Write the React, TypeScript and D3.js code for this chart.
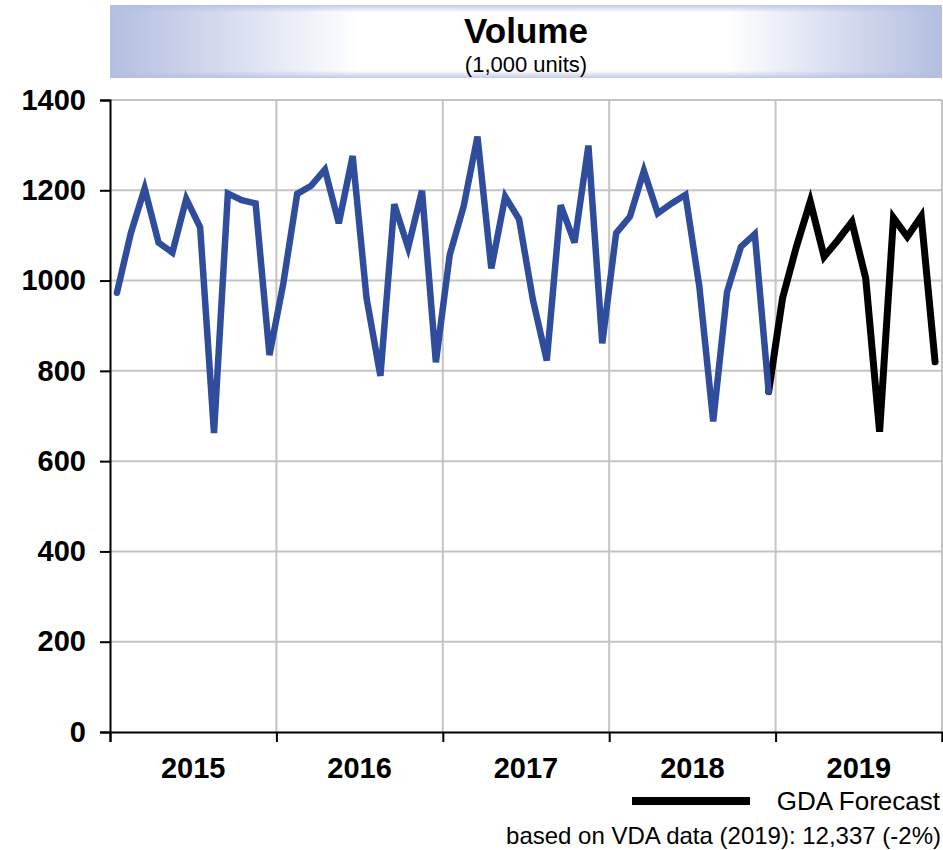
import React, { useEffect, useRef } from 'react';
import * as d3 from 'd3';

// monthly volumes, 1,000 units
const years = ['2015', '2016', '2017', '2018', '2019'];
const actual2015 = [973, 1105, 1204, 1084, 1062, 1181, 1118, 662, 1193, 1178, 1171, 835];
const actual2016 = [994, 1192, 1210, 1246, 1127, 1276, 961, 789, 1169, 1073, 1199, 819];
const actual2017 = [1057, 1164, 1319, 1027, 1186, 1136, 957, 823, 1167, 1084, 1299, 861];
const actual2018 = [1105, 1142, 1243, 1149, 1171, 1190, 987, 688, 975, 1075, 1103, 754];
const forecast2019 = [961, 1075, 1175, 1053, 1090, 1130, 1005, 665, 1139, 1097, 1142, 820];
const yTicks = [0, 200, 400, 600, 800, 1000, 1200, 1400];

const App = () => {
  const svgRef = useRef(null);

  useEffect(() => {
    const width = 943;
    const height = 850;
    const margin = { top: 100, right: 1, bottom: 118, left: 110 };

    const svg = d3.select(svgRef.current);
    svg.selectAll('*').remove();
    svg.attr('width', width).attr('height', height);

    const actual = [...actual2015, ...actual2016, ...actual2017, ...actual2018];

    const x = d3.scaleLinear()
      .domain([0, years.length * 12])
      .range([margin.left, width - margin.right]);
    const y = d3.scaleLinear()
      .domain([0, 1400])
      .range([height - margin.bottom, margin.top]);

    // title box with soft blue edges
    const defs = svg.append('defs');
    const gh = defs.append('linearGradient').attr('id', 'titleH')
      .attr('x1', '0%').attr('x2', '100%').attr('y1', '0%').attr('y2', '0%');
    gh.append('stop').attr('offset', '0%').attr('stop-color', '#b3bee0');
    gh.append('stop').attr('offset', '30%').attr('stop-color', '#ffffff');
    gh.append('stop').attr('offset', '74%').attr('stop-color', '#ffffff');
    gh.append('stop').attr('offset', '100%').attr('stop-color', '#b3bee0');
    const gv = defs.append('linearGradient').attr('id', 'titleV')
      .attr('x1', '0%').attr('x2', '0%').attr('y1', '0%').attr('y2', '100%');
    gv.append('stop').attr('offset', '0%').attr('stop-color', '#b3bee0').attr('stop-opacity', 0.8);
    gv.append('stop').attr('offset', '10%').attr('stop-color', '#b3bee0').attr('stop-opacity', 0);
    gv.append('stop').attr('offset', '90%').attr('stop-color', '#b3bee0').attr('stop-opacity', 0);
    gv.append('stop').attr('offset', '100%').attr('stop-color', '#b3bee0').attr('stop-opacity', 0.8);

    svg.append('rect')
      .attr('x', margin.left).attr('y', 5)
      .attr('width', width - margin.right - margin.left).attr('height', 73)
      .attr('fill', 'url(#titleH)');
    svg.append('rect')
      .attr('x', margin.left).attr('y', 5)
      .attr('width', width - margin.right - margin.left).attr('height', 73)
      .attr('fill', 'url(#titleV)');

    const cx = (margin.left + width - margin.right) / 2;
    svg.append('text')
      .attr('x', cx).attr('y', 43)
      .attr('text-anchor', 'middle')
      .style('font', 'bold 35px "Liberation Sans", Arial, sans-serif')
      .text('Volume');
    svg.append('text')
      .attr('x', cx).attr('y', 72)
      .attr('text-anchor', 'middle')
      .style('font', '22px "Liberation Sans", Arial, sans-serif')
      .text('(1,000 units)');

    // horizontal gridlines
    svg.append('g')
      .selectAll('line')
      .data(yTicks.filter((d) => d > 0))
      .join('line')
      .attr('x1', margin.left).attr('x2', width - margin.right)
      .attr('y1', (d) => y(d)).attr('y2', (d) => y(d))
      .attr('stroke', '#c4c4c4').attr('stroke-width', 2);

    // vertical gridlines at year boundaries
    svg.append('g')
      .selectAll('line')
      .data(d3.range(1, years.length + 1))
      .join('line')
      .attr('x1', (d) => x(d * 12)).attr('x2', (d) => x(d * 12))
      .attr('y1', y(1400)).attr('y2', y(0))
      .attr('stroke', '#c4c4c4').attr('stroke-width', 2);

    // y axis
    const yAxis = svg.append('g')
      .attr('transform', `translate(${margin.left},0)`)
      .call(d3.axisLeft(y).tickValues(yTicks).tickSize(10).tickPadding(14)
        .tickFormat((d) => String(d)));
    yAxis.select('.domain').attr('stroke', '#000').attr('stroke-width', 2);
    yAxis.selectAll('.tick line').attr('stroke', '#000').attr('stroke-width', 2);
    yAxis.selectAll('text')
      .attr('fill', '#000')
      .style('font', 'bold 29px "Liberation Sans", Arial, sans-serif');

    // x axis
    const xAxis = svg.append('g')
      .attr('transform', `translate(0,${y(0)})`)
      .call(d3.axisBottom(x).tickValues(d3.range(0, years.length + 1).map((d) => d * 12))
        .tickSize(10).tickFormat(() => ''));
    xAxis.select('.domain').attr('stroke', '#000').attr('stroke-width', 2);
    xAxis.selectAll('.tick line').attr('stroke', '#000').attr('stroke-width', 2);

    svg.append('g')
      .selectAll('text')
      .data(years)
      .join('text')
      .attr('x', (d, i) => x(i * 12 + 6))
      .attr('y', y(0) + 46)
      .attr('text-anchor', 'middle')
      .style('font', 'bold 29px "Liberation Sans", Arial, sans-serif')
      .text((d) => d);

    const line = d3.line()
      .x((d) => x(d[0] + 0.5))
      .y((d) => y(d[1]))
      .curve(d3.curveLinear);

    const actualPts = actual.map((v, i) => [i, v]);
    const last = actualPts[actualPts.length - 1];
    const forecastPts = [last, ...forecast2019.map((v, i) => [actual.length + i, v])];

    svg.append('path')
      .datum(forecastPts)
      .attr('d', line)
      .attr('fill', 'none')
      .attr('stroke', '#000')
      .attr('stroke-width', 7)
      .attr('stroke-linejoin', 'miter')
      .attr('stroke-linecap', 'round');

    svg.append('path')
      .datum(actualPts)
      .attr('d', line)
      .attr('fill', 'none')
      .attr('stroke', '#2f4d9c')
      .attr('stroke-width', 6.5)
      .attr('stroke-linejoin', 'miter')
      .attr('stroke-linecap', 'round');

    // legend
    svg.append('line')
      .attr('x1', 632).attr('x2', 750)
      .attr('y1', 801).attr('y2', 801)
      .attr('stroke', '#000').attr('stroke-width', 8);
    svg.append('text')
      .attr('x', 940).attr('y', 810)
      .attr('text-anchor', 'end')
      .style('font', '26px "Liberation Sans", Arial, sans-serif')
      .text('GDA Forecast');
    svg.append('text')
      .attr('x', 941).attr('y', 844)
      .attr('text-anchor', 'end')
      .style('font', '24px "Liberation Sans", Arial, sans-serif')
      .text('based on VDA data (2019): 12,337 (-2%)');
  }, []);

  return (
    <svg ref={svgRef} style={{ position: 'absolute', left: 0, top: 0 }} />
  );
};

export default App;
